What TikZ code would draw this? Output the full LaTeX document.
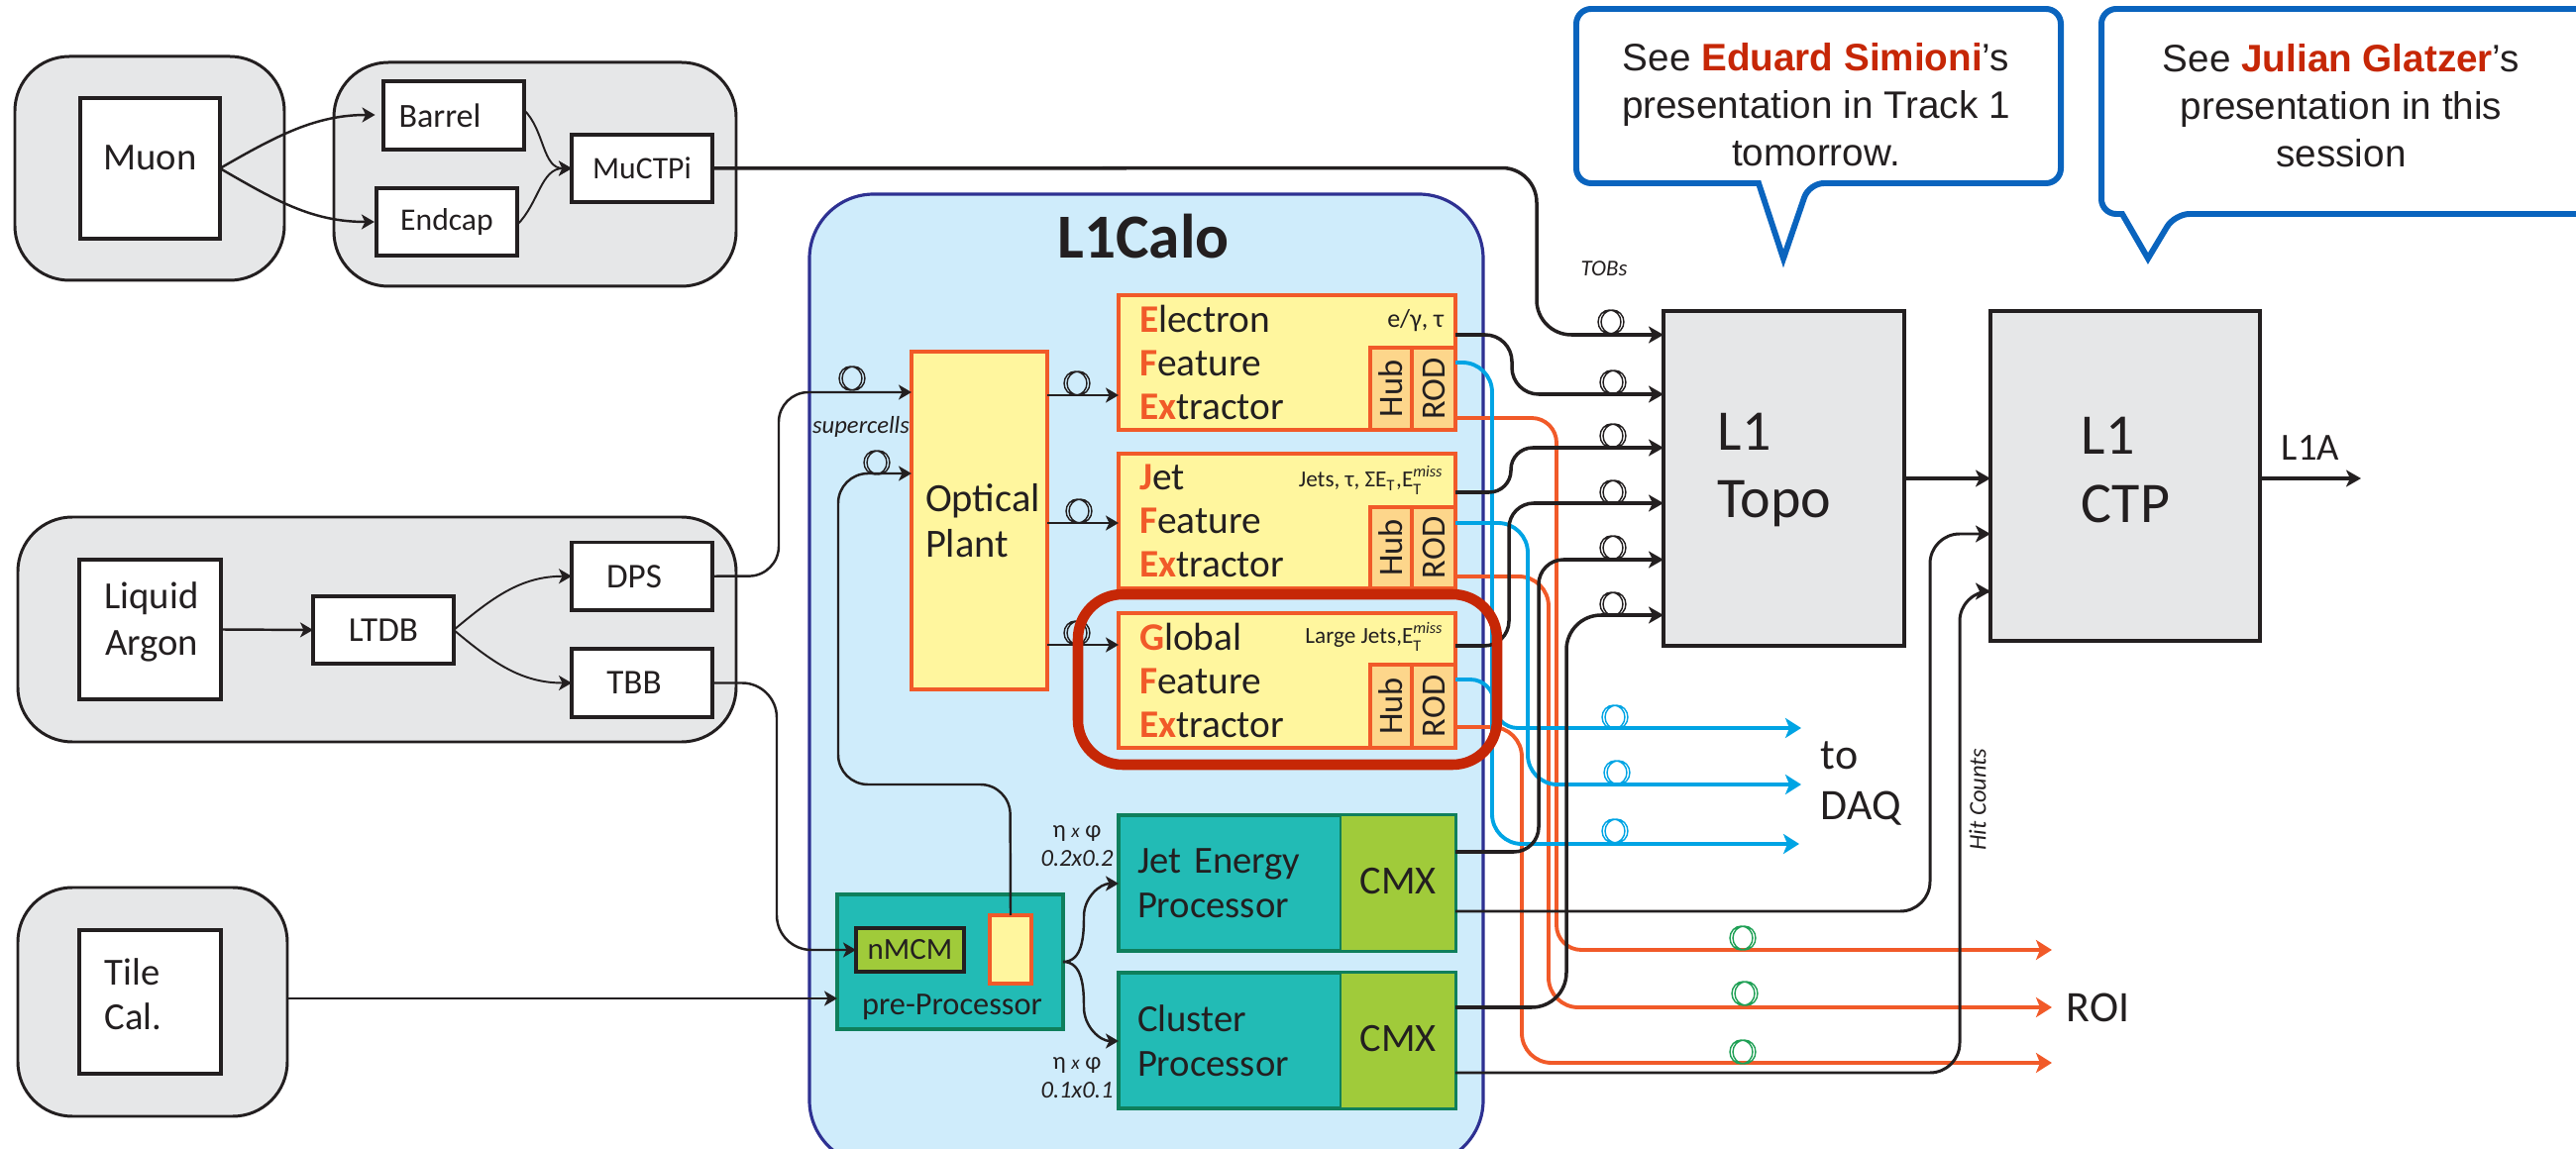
\documentclass[tikz,border=0pt]{standalone}
\usepackage{fontspec}
\setmainfont{Carlito}
\newfontfamily\notefont{Liberation Sans}
\usetikzlibrary{arrows.meta, positioning, calc}
\definecolor{ink}{HTML}{231F20}
\definecolor{crategrey}{HTML}{E6E7E8}
\definecolor{calosky}{HTML}{CFECFB}
\definecolor{caloline}{HTML}{2E3192}
\definecolor{fexyellow}{HTML}{FFF69E}
\definecolor{fexorange}{HTML}{F15A29}
\definecolor{portorange}{HTML}{FDD68B}
\definecolor{daqblue}{HTML}{00A4E4}
\definecolor{roigreen}{HTML}{1FA055}
\definecolor{proctcal}{HTML}{22BBB5}
\definecolor{procline}{HTML}{0F7F5C}
\definecolor{cmxgreen}{HTML}{A0CB3A}
\definecolor{ringred}{HTML}{C62706}
\definecolor{noteblue}{HTML}{0A64BE}
\newcommand{\hi}[1]{\textcolor{fexorange}{\textbf{#1}}}
\newcommand{\who}[1]{\textcolor{ringred}{\textbf{#1}}}
\newcommand{\fsize}[2]{\fontsize{#1}{#2}\selectfont}
\newcommand{\etmiss}{E$_{\mathrm{T}}^{\mathit{miss}}$}
\newcommand{\fibre}[3]{\draw[line width=.4pt, #1] (#2-1.5,#3) ellipse [x radius=1.15mm, y radius=1.2mm] (#2+1.5,#3) ellipse [x radius=1.15mm, y radius=1.2mm];}
\begin{document}
\begin{tikzpicture}[
  x=0.1mm, y=-0.1mm,
  crate/.style={draw=ink, line width=.85pt, fill=crategrey, rounded corners=5.5mm, anchor=north west, outer sep=0pt},
  unit/.style={draw=ink, line width=1pt, fill=white, anchor=north west, outer sep=0pt, inner sep=0pt, align=center, font=\fsize{10}{13}, text=ink},
  fex/.style={draw=fexorange, line width=.9pt, fill=fexyellow, anchor=north west, outer sep=0pt, inner xsep=2.1mm, inner ysep=0pt, text width=29.8mm, minimum height=13.6mm, align=left, font=\fsize{11.2}{12.6}, text=ink},
  port/.style={draw=fexorange, line width=1.1pt, fill=portorange, anchor=south east, outer sep=0pt, inner sep=0pt, font=\fsize{9.8}{10}, text=ink},
  kind/.style={anchor=base east, inner sep=0pt, font=\fsize{6.6}{7}, text=ink},
  proc/.style={draw=procline, line width=.9pt, fill=proctcal, anchor=north west, outer sep=0pt, inner xsep=1.9mm, inner ysep=0pt, text width=30.2mm, minimum height=13.7mm, align=left, font=\fsize{11}{12.8}, text=ink},
  cmx/.style={fill=cmxgreen, draw=procline, line width=.5pt, anchor=north east, outer sep=0pt, inner sep=0pt, minimum width=11.6mm, minimum height=13.7mm, font=\fsize{11.5}{12}, text=ink},
  level/.style={draw=ink, line width=1pt, fill=crategrey, anchor=north west, outer sep=0pt},
  bigtext/.style={anchor=west, inner sep=0pt, align=left, font=\fsize{16.5}{19.6}, text=ink},
  tag/.style={inner sep=0pt, align=center, font=\fsize{7}{8.2}\itshape, text=ink},
  outtext/.style={anchor=west, inner sep=0pt, align=left, font=\fsize{12.5}{14.5}, text=ink},
  thinwire/.style={-{Stealth[length=1.3mm,width=1.5mm,inset=.35mm]}, line width=.7pt, ink},
  wire/.style={-{Stealth[length=1.5mm,width=1.7mm,inset=.4mm]}, line width=1pt, ink},
  daqline/.style={-{Stealth[length=1.6mm,width=2mm,inset=.4mm]}, line width=1.1pt, daqblue},
  roiline/.style={-{Stealth[length=1.6mm,width=2mm,inset=.4mm]}, line width=1.1pt, fexorange},
  noteline/.style={draw=noteblue, line width=1.7pt, fill=white, line join=miter},
  notetext/.style={inner sep=0pt, align=center, font=\notefont\fsize{11}{13.7}, text=ink}
]
\useasboundingbox (0,0) rectangle (2600,1160);

% muon path
\node[crate, minimum width=27.2mm, minimum height=22.6mm] (muoncrate) at (15,57) {};
\node[unit, minimum width=14.1mm, minimum height=14.2mm, font=\fsize{11}{13}] (muon) at (81,99) {\raisebox{2.1mm}{Muon}};
\node[crate, minimum width=40.6mm, minimum height=22.6mm] (muctpicrate) at (337,63) {};
\node[unit, minimum width=14.2mm, minimum height=6.9mm, font=\fsize{9.7}{11}] (barrel) at (387,82) {Barrel\hspace{2.8mm}};
\node[unit, minimum width=14.2mm, minimum height=6.8mm, font=\fsize{9}{11}] (endcap) at (380,190) {Endcap};
\node[unit, minimum width=14.2mm, minimum height=6.8mm, font=\fsize{9}{11}] (muctpi) at (577,136) {MuCTPi};

% liquid argon path
\node[crate, minimum width=72.5mm, minimum height=22.7mm] (larcrate) at (18,522) {};
\node[unit, minimum width=14.3mm, minimum height=14.1mm] (lar) at (80,565) {};
\node[inner sep=0pt, align=center, font=\fsize{11}{13.2}, text=ink] (lartext) at (153,628) {Liquid\\Argon};
\node[unit, minimum width=14.2mm, minimum height=6.8mm] (ltdb) at (316,602) {LTDB};
\node[unit, minimum width=14.2mm, minimum height=6.85mm] (dps) at (577,547.5) {DPS\hspace{1.6mm}};
\node[unit, minimum width=14.2mm, minimum height=6.9mm] (tbb) at (577,655) {TBB\hspace{1.6mm}};

% tile path
\node[crate, minimum width=27.2mm, minimum height=23.1mm] (tilecrate) at (18,896) {};
\node[unit, minimum width=14.3mm, minimum height=14.5mm] (tile) at (80,939) {};
\node[anchor=west, inner sep=0pt, align=left, font=\fsize{11}{12.8}, text=ink] (tiletext) at (105,1004) {Tile\\Cal.};

% L1Calo system
\node[draw=caloline, line width=.9pt, fill=calosky, rounded corners=6.5mm, anchor=north west, minimum width=68mm, minimum height=98mm, outer sep=0pt] (calo) at (817,196) {};
\node[inner sep=0pt, font=\fsize{18}{18}\bfseries, text=ink] (calotext) at (1154,239) {L1Calo};

\node[draw=fexorange, line width=.9pt, fill=fexyellow, anchor=north west, outer sep=0pt, minimum height=34.1mm, inner xsep=1.4mm, inner ysep=0pt, text width=10.9mm, align=left, font=\fsize{11.5}{13.1}, text=ink] (optical) at (920,355) {Optical\\Plant};

\node[fex] (efex) at (1129,298) {\hi{E}lectron\\\hi{F}eature\\\hi{Ex}tractor};
\node[fex, below=2.4mm of efex] (jfex) {\hi{J}et\\\hi{F}eature\\\hi{Ex}tractor};
\node[fex, below=2.5mm of jfex] (gfex) {\hi{G}lobal\\\hi{F}eature\\\hi{Ex}tractor};
\foreach \fex/\tall in {efex/8.3mm, jfex/8.2mm, gfex/8.4mm} {
  \node[port, minimum width=4.4mm, minimum height=\tall] (\fex rod) at (\fex.south east) {\rotatebox{90}{ROD}};
  \node[port, minimum width=4.2mm, minimum height=\tall, left=0mm of \fex rod] (\fex hub) {\rotatebox{90}{Hub}};
}
\node[kind, font=\fsize{7.4}{8}] (ekind) at (1458,331) {e/γ, τ};
\node[kind] (jkind) at (1458,492) {Jets, τ, ΣE$_{\mathrm{T}}$,\etmiss};
\node[kind] (gkind) at (1458,650) {Large Jets,\etmiss};

\node[draw=procline, line width=.9pt, fill=proctcal, anchor=north west, minimum width=22.8mm, minimum height=13.6mm, outer sep=0pt] (preproc) at (845,903) {};
\node[inner sep=0pt, font=\fsize{9.2}{11}, text=ink] (preproctext) at (961,1017) {pre-Processor};
\node[draw=ink, line width=.9pt, fill=cmxgreen, anchor=north west, minimum width=10.9mm, minimum height=4.4mm, outer sep=0pt, inner sep=0pt, font=\fsize{8.8}{10}, text=ink] (nmcm) at (864,937) {nMCM};
\node[draw=fexorange, line width=.9pt, fill=fexyellow, anchor=north west, minimum width=4.2mm, minimum height=6.9mm, outer sep=0pt] (tap) at (999,924) {};

\node[proc] (jep) at (1129,823) {Jet Energy\\Processor};
\node[proc] (clu) at (1129,982) {Cluster\\Processor};
\node[cmx] (jepcmx) at (jep.north east) {\raisebox{.5mm}{CMX}};
\node[cmx] (clucmx) at (clu.north east) {\raisebox{.5mm}{CMX}};
\node[tag] (jepsize) at (1087,854) {{\upshape η} {\fsize{5.5}{8}x} {\upshape φ}\\0.2x0.2};
\node[tag] (clusize) at (1087,1088) {{\upshape η} {\fsize{5.5}{8}x} {\upshape φ}\\0.1x0.1};

% central trigger boxes
\node[level, minimum width=24.3mm, minimum height=33.8mm] (topo) at (1679,314) {};
\node[bigtext] (topotext) at (1733,474.5) {L1\\Topo};
\node[level, minimum width=27.2mm, minimum height=33.3mm] (ctp) at (2009,314) {};
\node[bigtext] (ctptext) at (2100,474.5) {L1\\CTP};

% free ends
\coordinate (l1aout) at (2383,483);
\coordinate (daqa) at (1818,735);
\coordinate (daqb) at (1818,792);
\coordinate (daqc) at (1816,852);
\coordinate (roia) at (2071,959);
\coordinate (roib) at (2071,1017);
\coordinate (roic) at (2071,1073);

% fan-outs
\draw[thinwire, shorten >=2.4pt] (muon.east) to[out=30, in=180] (barrel.west |- 0,116);
\draw[thinwire, shorten >=.6pt] (muon.east) to[out=-30, in=180] (endcap.west |- 0,224);
\draw[thinwire, line width=.55pt] (barrel.east |- 0,111) to[out=-45, in=180] (muctpi.west);
\draw[thinwire, line width=.55pt] (endcap.east |- 0,227) to[out=45, in=180] (muctpi.west);
\draw[thinwire] (lar.east) -- (ltdb.west);
\draw[thinwire, line width=.55pt] (ltdb.east) to[out=40, in=180] (dps.west);
\draw[thinwire, line width=.55pt] (ltdb.east) to[out=-40, in=180] (tbb.west);
\draw[thinwire] (preproc.east |- 0,971) to[out=0, in=-90] (1094,925) to[out=90, in=180] (jep.west |- 0,892);
\draw[thinwire] (preproc.east |- 0,971) to[out=0, in=90] (1094,1017) to[out=-90, in=180] (clu.west |- 0,1051);

% inputs of L1Calo
\draw[thinwire, rounded corners=3mm] (dps.east) -- (786,581.5) -- (786,396) -- (optical.west |- 0,396);
\draw[thinwire, rounded corners=3mm] (tap.north) -- (1019.5,792) -- (846,792) -- (846,478) -- (optical.west |- 0,478);
\draw[thinwire, rounded corners=3.5mm] (tbb.east) -- (784,689.5) -- (784,959) -- (nmcm.west);
\draw[thinwire] (tilecrate.east |- 0,1008) -- (preproc.west |- 0,1008);
\draw[thinwire] (optical.east |- 0,399) -- (efex.west |- 0,399);
\draw[thinwire] (optical.east |- 0,528) -- (jfex.west |- 0,528);
\draw[thinwire] (optical.east |- 0,651) -- (gfex.west |- 0,651);

% red ROI lines
\draw[roiline, rounded corners=2.5mm] (efex.east |- 0,422) -- (1571,422) -- (1571,959) -- (roia);
\draw[roiline, rounded corners=3mm] (jfex.east |- 0,582) -- (1563,582) -- (1563,1017) -- (roib);
\draw[roiline, rounded corners=3mm] (gfex.east |- 0,734) -- (1536,734) -- (1536,1073) -- (roic);

% blue DAQ lines
\draw[daqline, rounded corners=2.4mm] (gfex.east |- 0,686) -- (1508,686) -- (1508,735) -- (daqa);
\draw[daqline, rounded corners=3mm] (jfex.east |- 0,528) -- (1542,528) -- (1542,792) -- (daqb);
\draw[daqline, rounded corners=3mm] (efex.east |- 0,366) -- (1506,366) -- (1506,852) -- (daqc);

% TOB lines
\draw[wire, rounded corners=3.5mm] (muctpi.east) -- (1551,169.5) -- (1551,338) -- (topo.west |- 0,338);
\draw[wire, rounded corners=2.7mm] (efex.east |- 0,338) -- (1526,338) -- (1526,398) -- (topo.west |- 0,398);
\draw[wire, rounded corners=2.2mm] (jfex.east |- 0,497) -- (1525,497) -- (1525,452) -- (topo.west |- 0,452);
\draw[wire, rounded corners=2.5mm] (gfex.east |- 0,652) -- (1523,652) -- (1523,508) -- (topo.west |- 0,508);
\draw[wire, rounded corners=2.5mm] (jepcmx.east |- 0,860) -- (1553,860) -- (1553,565) -- (topo.west |- 0,565);
\draw[wire, rounded corners=3.5mm] (clucmx.east |- 0,1017) -- (1581,1017) -- (1581,621) -- (topo.west |- 0,621);

% hit counts and decision
\draw[wire, line width=.85pt, rounded corners=3mm] (jepcmx.east |- 0,920) -- (1948,920) -- (1948,539) -- (ctp.west |- 0,539);
\draw[wire, line width=.85pt, rounded corners=3mm] (clucmx.east |- 0,1083) -- (1978,1083) -- (1978,597) -- (ctp.west |- 0,597);
\draw[wire] (topo.east) -- (ctp.west |- topo.east);
\draw[wire] (ctp.east |- topo.east) -- (l1aout);

% fibres
\foreach \x/\y in {1087/387, 1089/516, 1087/639, 860/382, 885/467, 1626/325, 1628/386, 1628/440, 1628/497, 1628/553, 1628/610} {
  \fibre{ink}{\x}{\y}
}
\foreach \x/\y in {1630/724, 1632/780, 1630/839} {
  \fibre{daqblue}{\x}{\y}
}
\foreach \x/\y in {1759/947, 1761/1003, 1759/1062} {
  \fibre{roigreen}{\x}{\y}
}

% small labels
\node[tag, font=\fsize{6.5}{7}\itshape] (toblabel) at (1619,271) {TOBs};
\node[tag, font=\fsize{7}{7}\itshape] (celllabel) at (869,431) {supercells};
\node[tag, rotate=90] (hitlabel) at (1996,807) {Hit Counts};
\node[inner sep=0pt, font=\fsize{11}{11}, text=ink] (l1atext) at (2332,452) {L1A};
\node[outtext] (daqtext) at (1837,791) {to\\DAQ};
\node[outtext] (roitext) at (2085,1017) {ROI};

% highlight ring
\node[draw=ringred, line width=3pt, rounded corners=4.5mm, anchor=north west, minimum width=42.3mm, minimum height=17.2mm, outer sep=0pt] (ring) at (1088,600) {};

% speaker notes
\draw[noteline, rounded corners=1.5mm] (1591,100) -- (1591,9) -- (2080,9) -- (2080,185) -- (1826,185) [sharp corners] -- (1800,261) -- (1775,185) [rounded corners=1.5mm] -- (1591,185) -- cycle;
\node[notetext] (simioni) at (1833,106) {See \who{Eduard Simioni}’s\\presentation in Track 1\\tomorrow.};
\draw[noteline, rounded corners=1.5mm] (2121,100) -- (2121,9) -- (2640,9) -- (2640,216) -- (2195,216) [sharp corners] -- (2168,261) -- (2142,216) [rounded corners=1.5mm] -- (2121,216) -- cycle;
\node[notetext] (glatzer) at (2363,107) {See \who{Julian Glatzer}’s\\presentation in this\\session};
\end{tikzpicture}
\end{document}
